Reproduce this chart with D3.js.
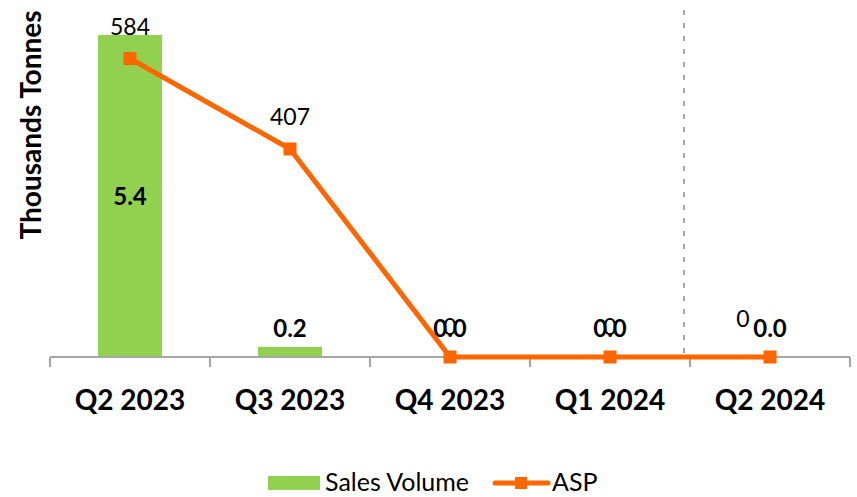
<!DOCTYPE html>
<html>
<head>
<meta charset="utf-8">
<script src="https://cdn.jsdelivr.net/npm/d3@7"></script>
<style>
  html, body { margin: 0; padding: 0; background: #fff; }
  svg { display: block; font-family: Lato, "Open Sans", sans-serif; }
</style>
</head>
<body>
<svg id="chart" width="857" height="497"></svg>
<script>
// ---- data ----
const categories = ["Q2 2023", "Q3 2023", "Q4 2023", "Q1 2024", "Q2 2024"];
const salesVolume = [5.4, 0.17, 0, 0, 0];
const asp = [584, 407, 0, 0, 0];
const yAxisTitle = "Thousands Tonnes";
const legendLabels = ["Sales Volume", "ASP"];

// ---- style ----
const green = "#92D050";
const orange = "#FF6600";
const axisGrey = "#A6A6A6";
// small per-point nudges for the ASP labels (as placed in the source)
const aspLabelNudge = [[0, 0], [0, 0], [0, 2], [0, 2], [-27, -6]];

const svg = d3.select("#chart");
const plotLeft = 50, plotRight = 850, plotTop = 35, plotBase = 357;

const x = d3.scaleBand().domain(categories).range([plotLeft, plotRight]).padding(0);
const yBar = d3.scaleLinear().domain([0, 5.4]).range([plotBase, plotTop]);
const yAsp = d3.scaleLinear().domain([0, 630]).range([plotBase, plotTop]);
const barW = x.bandwidth() * 0.4;

const rows = categories.map((c, i) => ({ c, v: salesVolume[i], a: asp[i], i }));

// dashed separator
svg.append("line")
  .attr("x1", x("Q2 2024") - 6).attr("x2", x("Q2 2024") - 6)
  .attr("y1", 10).attr("y2", plotBase)
  .attr("stroke", "#8C8C8C").attr("stroke-width", 1.5)
  .attr("stroke-dasharray", "5,8");

// bars
svg.append("g").selectAll("rect").data(rows).join("rect")
  .attr("x", d => x(d.c) + (x.bandwidth() - barW) / 2)
  .attr("width", barW)
  .attr("y", d => yBar(d.v))
  .attr("height", d => plotBase - yBar(d.v))
  .attr("fill", green);

// x axis line + boundary ticks
const bounds = categories.map(c => x(c)).concat([plotRight]);
svg.append("line")
  .attr("x1", plotLeft).attr("x2", plotRight).attr("y1", plotBase).attr("y2", plotBase)
  .attr("stroke", axisGrey).attr("stroke-width", 2);
svg.append("g").selectAll("line").data(bounds).join("line")
  .attr("x1", d => d).attr("x2", d => d)
  .attr("y1", plotBase).attr("y2", plotBase + 10)
  .attr("stroke", axisGrey).attr("stroke-width", 2);

// x tick labels via d3 axis
const ax = svg.append("g").attr("transform", `translate(0,${plotBase})`)
  .call(d3.axisBottom(x).tickSize(0).tickPadding(33));
ax.select(".domain").remove();
ax.selectAll("text")
  .attr("font-family", "Lato, sans-serif")
  .attr("font-size", 28).attr("font-weight", "bold").attr("fill", "#000");

// ASP line
const line = d3.line().x(d => x(d.c) + x.bandwidth() / 2).y(d => yAsp(d.a));
svg.append("path").datum(rows)
  .attr("d", line).attr("fill", "none")
  .attr("stroke", orange).attr("stroke-width", 5).attr("stroke-linejoin", "round");
svg.append("g").selectAll("rect").data(rows).join("rect")
  .attr("x", d => x(d.c) + x.bandwidth() / 2 - 6.5)
  .attr("y", d => yAsp(d.a) - 6.5)
  .attr("width", 13).attr("height", 13)
  .attr("fill", orange);

// bar value labels
svg.append("g").selectAll("text").data(rows).join("text")
  .attr("x", d => x(d.c) + x.bandwidth() / 2)
  .attr("y", d => (plotBase - yBar(d.v)) > 60
    ? (yBar(d.v) + plotBase) / 2 + 9
    : Math.min(yBar(d.v) - 10, plotBase - 20))
  .attr("text-anchor", "middle")
  .attr("font-size", 24).attr("font-weight", "bold").attr("fill", "#000")
  .text(d => d3.format(".1f")(d.v));

// ASP value labels (drawn on top, as in the source)
svg.append("g").selectAll("text").data(rows).join("text")
  .attr("x", d => x(d.c) + x.bandwidth() / 2 + aspLabelNudge[d.i][0])
  .attr("y", d => yAsp(d.a) - 24 + aspLabelNudge[d.i][1])
  .attr("text-anchor", "middle")
  .attr("font-size", 23).attr("fill", "#000")
  .text(d => d3.format("d")(d.a));

// y axis title
svg.append("text")
  .attr("transform", "translate(41,125) rotate(-90)")
  .attr("text-anchor", "middle")
  .attr("font-size", 28).attr("font-weight", "bold").attr("fill", "#000")
  .text(yAxisTitle);

// legend
const lg = svg.append("g");
lg.append("rect").attr("x", 268).attr("y", 476).attr("width", 52).attr("height", 14).attr("fill", green);
lg.append("text").attr("x", 325).attr("y", 491).attr("font-size", 25).attr("fill", "#000").text(legendLabels[0]);
lg.append("line").attr("x1", 495).attr("x2", 548).attr("y1", 483).attr("y2", 483)
  .attr("stroke", orange).attr("stroke-width", 5).attr("stroke-linecap", "round");
lg.append("rect").attr("x", 515).attr("y", 477).attr("width", 12).attr("height", 12).attr("fill", orange);
lg.append("text").attr("x", 552).attr("y", 491).attr("font-size", 25).attr("fill", "#000").text(legendLabels[1]);
</script>
</body>
</html>
